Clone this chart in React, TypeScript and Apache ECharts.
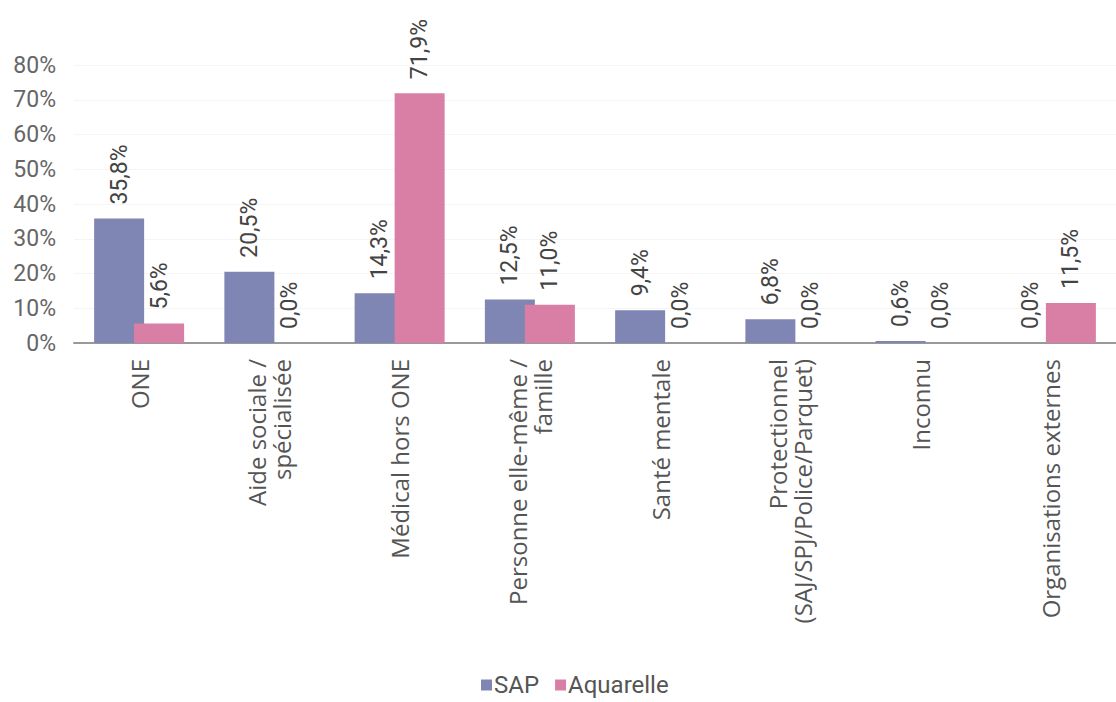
import React, { useEffect, useRef } from "react";
import * as echarts from "echarts";

const categories = [
  "ONE",
  "Aide sociale /\nspécialisée",
  "Médical hors ONE",
  "Personne elle-même /\nfamille",
  "Santé mentale",
  "Protectionnel\n(SAJ/SPJ/Police/Parquet)",
  "Inconnu",
  "Organisations externes",
];
const sapValues = [35.8, 20.5, 14.3, 12.5, 9.4, 6.8, 0.6, 0.0];
const aquarelleValues = [5.6, 0.0, 71.9, 11.0, 0.0, 0.0, 0.0, 11.5];
const yTicks = [0, 10, 20, 30, 40, 50, 60, 70, 80];

const fmt = (v: number) => v.toFixed(1).replace(".", ",") + "%";

export default function App() {
  const ref = useRef<HTMLDivElement>(null);
  useEffect(() => {
    if (!ref.current) return;
    const chart = echarts.init(ref.current, undefined, { renderer: "svg" });
    const labelStyle = {
      show: true,
      position: "top" as const,
      rotate: 90,
      align: "left" as const,
      verticalAlign: "middle" as const,
      distance: 14,
      fontFamily: "Roboto",
      fontSize: 23,
      color: "#444",
      formatter: (p: any) => fmt(p.value),
    };
    chart.setOption({
      animation: false,
      backgroundColor: "#ffffff",
      grid: { left: 74, top: 65, width: 1048, height: 278, containLabel: false },
      legend: {
        data: ["SAP", "Aquarelle"],
        bottom: 0,
        left: 476,
        icon: "rect",
        itemWidth: 11,
        itemHeight: 11,
        itemGap: 16,
        textStyle: { fontFamily: "Roboto", fontSize: 24, color: "#555", padding: [0, 0, 0, -3] },
      },
      xAxis: {
        type: "category",
        data: categories,
        axisLine: { lineStyle: { color: "#999", width: 2 } },
        axisTick: { show: false },
        axisLabel: {
          rotate: 90,
          interval: 0,
          margin: 16,
          fontFamily: "Open Sans",
          fontSize: 24,
          lineHeight: 25,
          color: "#555",
        },
      },
      yAxis: {
        type: "value",
        min: 0,
        max: 80,
        interval: 10,
        axisLine: { show: false },
        axisTick: { show: false },
        splitLine: { lineStyle: { color: "#f5f5f5", width: 1 } },
        axisLabel: {
          margin: 18,
          fontFamily: "Roboto",
          fontSize: 23,
          color: "#666",
          formatter: (v: number) => (yTicks.includes(v) ? v + "%" : ""),
        },
      },
      series: [
        {
          name: "SAP",
          type: "bar",
          data: sapValues,
          barWidth: 50,
          barGap: "-20%",
          itemStyle: { color: "#7f86b3" },
          label: labelStyle,
        },
        {
          name: "Aquarelle",
          type: "bar",
          data: aquarelleValues,
          barWidth: 50,
          itemStyle: { color: "#d97fa6" },
          label: labelStyle,
        },
      ],
    });
    return () => chart.dispose();
  }, []);
  return (
    <div
      ref={ref}
      style={{ position: "absolute", left: 0, top: 0, width: 1116, height: 702, overflow: "hidden" }}
    />
  );
}
